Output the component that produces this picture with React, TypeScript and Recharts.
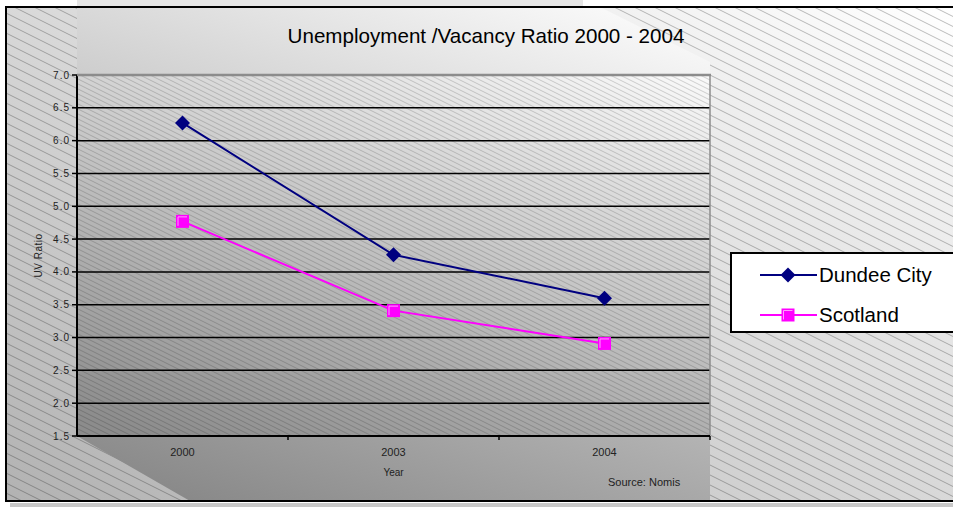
import React from 'react';
import { ComposedChart, Line, XAxis, YAxis, CartesianGrid, Legend, Label } from 'recharts';

// values
const years = ['2000', '2003', '2004'];
const dundeeCity = [6.27, 4.26, 3.6];
const scotland = [4.77, 3.41, 2.91];
const yTicks = [1.5, 2.0, 2.5, 3.0, 3.5, 4.0, 4.5, 5.0, 5.5, 6.0, 6.5, 7.0];

const data = years.map((year, i) => ({ year, dundee: dundeeCity[i], scotland: scotland[i] }));

const SERIES = [
  { key: 'dundee', name: 'Dundee City', color: '#000080', shape: 'diamond' },
  { key: 'scotland', name: 'Scotland', color: '#ff00ff', shape: 'square' },
];

const W = 953;
const H = 507;
const PLOT = { left: 77, top: 75, right: 710, bottom: 436 };
const FONT = '"Liberation Sans", Arial, sans-serif';

const Marker = ({ cx, cy, shape, color }: any) => {
  if (shape === 'diamond') {
    const r = 7.5;
    return <path d={`M${cx},${cy - r}L${cx + r},${cy}L${cx},${cy + r}L${cx - r},${cy}Z`} fill={color} />;
  }
  const s = 6.5;
  return (
    <g>
      <rect x={cx - s} y={cy - s} width={s * 2} height={s * 2} fill={color} />
      <path d={`M${cx - 4.5},${cy + 4.5}V${cy - 4.5}H${cx + 4.5}`} fill="none" stroke="#ff9cff" strokeWidth={1} />
    </g>
  );
};

const XTick = (props: any) => {
  const { x, y, payload } = props;
  const half = payload && typeof payload.offset === 'number' && payload.offset > 0
    ? payload.offset
    : (PLOT.right - PLOT.left) / years.length / 2;
  const axisY = y - 12;
  return (
    <g>
      <line x1={x + half} x2={x + half} y1={axisY} y2={axisY + 4} stroke="#000" strokeWidth={1.5} />
      <text x={x} y={y} dy="0.71em" textAnchor="middle" fontSize={11} fill="#222" fontFamily={FONT}>
        {payload.value}
      </text>
    </g>
  );
};

const YTick = ({ x, y, payload }: any) => (
  <text x={x} y={y} dy="0.355em" textAnchor="end" fontSize={10} fill="#222" letterSpacing={1} fontFamily={FONT}>
    {Number(payload.value).toFixed(1)}
  </text>
);

const YLabel = (p: any) => {
  const vb = p.viewBox || { x: 33, y: PLOT.top, width: 44, height: PLOT.bottom - PLOT.top };
  const cx = vb.x + 5;
  const cy = vb.y + vb.height / 2;
  return (
    <text x={cx} y={cy} transform={`rotate(-90 ${cx} ${cy})`} textAnchor="middle" dominantBaseline="central"
      fontSize={10} letterSpacing={0.5} fill="#222" fontFamily={FONT}>
      UV Ratio
    </text>
  );
};

const XLabel = (p: any) => {
  const vb = p.viewBox || { x: PLOT.left, y: PLOT.bottom, width: PLOT.right - PLOT.left, height: 40 };
  return (
    <text x={vb.x + vb.width / 2} y={vb.y + 40} textAnchor="middle" fontSize={10} fill="#222" fontFamily={FONT}>
      Year
    </text>
  );
};

const LegendBox = (props: any) => {
  const items = (props.payload && props.payload.length ? props.payload : SERIES.map((s) => ({ dataKey: s.key, value: s.name, color: s.color })));
  return (
    <div style={{ width: 240, height: 81, boxSizing: 'border-box', border: '2px solid #000', background: '#fff' }}>
      {items.map((it: any) => {
        const s = SERIES.find((q) => q.key === it.dataKey) || SERIES[0];
        return (
          <div key={s.key} style={{ height: 39, display: 'flex', alignItems: 'center', paddingTop: 1 }}>
            <svg width={87} height={20} style={{ flex: 'none' }}>
              <line x1={28} x2={85} y1={10} y2={10} stroke={s.color} strokeWidth={2} />
              <Marker cx={56} cy={10} shape={s.shape} color={s.color} />
            </svg>
            <span style={{ fontFamily: FONT, fontSize: 20.5, color: '#000', lineHeight: '20px' }}>{it.value || s.name}</span>
          </div>
        );
      })}
    </div>
  );
};

const hatch = (w: number, h: number) =>
  `M${-w},${-h}L${2 * w},${2 * h}M0,${-h}L${2 * w},${h}M${-w},0L${w},${2 * h}`;

const Background = () => (
  <svg width={W} height={H} style={{ position: 'absolute', left: 0, top: 0 }}>
    <defs>
      <linearGradient id="bgGrad" x1="1" y1="0" x2="0" y2="1">
        <stop offset="0" stopColor="#ffffff" />
        <stop offset="1" stopColor="#b2b2b2" />
      </linearGradient>
      <linearGradient id="wallGrad" x1="1" y1="0" x2="0.47" y2="1.2">
        <stop offset="0" stopColor="#ffffff" />
        <stop offset="1" stopColor="#838383" />
      </linearGradient>
      <linearGradient id="plotGrad" x1="1" y1="0" x2="0.4" y2="1.15">
        <stop offset="0" stopColor="#fafafa" />
        <stop offset="1" stopColor="#8c8c8c" />
      </linearGradient>
      <pattern id="hatchWide" patternUnits="userSpaceOnUse" width={20} height={10}>
        <path d={hatch(20, 10)} stroke="rgba(0,0,0,0.33)" strokeWidth={0.8} fill="none" />
      </pattern>
      <pattern id="hatchFine" patternUnits="userSpaceOnUse" width={10} height={5}>
        <path d={hatch(10, 5)} stroke="rgba(0,0,0,0.24)" strokeWidth={0.7} fill="none" />
      </pattern>
    </defs>
    <rect x={0} y={0} width={W} height={H} fill="#fff" />
    <rect x={77} y={0} width={506} height={6} fill="#e6e6e6" />
    <rect x={6} y={7} width={W - 6} height={494} fill="url(#bgGrad)" />
    <rect x={6} y={7} width={W - 6} height={494} fill="url(#hatchWide)" />
    <polygon points={`${PLOT.left},7 600,7 ${PLOT.right},62 ${PLOT.right},501 190,501 ${PLOT.left},${PLOT.bottom}`}
      fill="url(#wallGrad)" />
    <rect x={PLOT.left} y={PLOT.top} width={PLOT.right - PLOT.left} height={PLOT.bottom - PLOT.top} fill="url(#plotGrad)" />
    <rect x={PLOT.left} y={PLOT.top} width={PLOT.right - PLOT.left} height={PLOT.bottom - PLOT.top} fill="url(#hatchFine)" />
    <text x={486} y={43} textAnchor="middle" fontSize={20.6} fill="#000" fontFamily={FONT}>
      Unemployment /Vacancy Ratio 2000 - 2004
    </text>
    <text x={608} y={486} fontSize={11} fill="#222" fontFamily={FONT}>Source: Nomis</text>
    <rect x={10} y={503} width={W - 10} height={4} fill="#c8c8c8" />
    <line x1={6} x2={W} y1={7} y2={7} stroke="#000" strokeWidth={2} />
    <line x1={6} x2={6} y1={6} y2={502} stroke="#000" strokeWidth={2} />
    <line x1={6} x2={W} y1={501} y2={501} stroke="#000" strokeWidth={2} />
  </svg>
);

const Overlay = () => (
  <svg width={W} height={H} style={{ position: 'absolute', left: 0, top: 0, pointerEvents: 'none' }}>
    <line x1={PLOT.left} x2={PLOT.right + 1} y1={PLOT.top} y2={PLOT.top} stroke="#8c8c8c" strokeWidth={2.5} />
    <line x1={PLOT.right} x2={PLOT.right} y1={PLOT.top} y2={PLOT.bottom - 1} stroke="#8c8c8c" strokeWidth={1.5} />
  </svg>
);

export default function App() {
  return (
    <div style={{ position: 'absolute', left: 0, top: 0, width: W, height: H, overflow: 'hidden' }}>
      <Background />
      <div style={{ position: 'absolute', left: 0, top: 0 }}>
        <ComposedChart width={W} height={H} data={data}
          margin={{ top: PLOT.top, right: W - PLOT.right, left: 33, bottom: 31 }}>
          <CartesianGrid vertical={false} stroke="#000" strokeWidth={1.5} fill="none" />
          <XAxis dataKey="year" scale="band" height={40} tickSize={0} tickMargin={12} tickLine={false}
            axisLine={{ stroke: '#000', strokeWidth: 2 }} tick={<XTick />} interval={0}>
            <Label content={<XLabel />} />
          </XAxis>
          <YAxis type="number" domain={[1.5, 7]} ticks={yTicks} interval={0} width={44} tickSize={5} tickMargin={2}
            allowDataOverflow axisLine={{ stroke: '#000', strokeWidth: 2 }} tickLine={{ stroke: '#000', strokeWidth: 1.5 }}
            tick={<YTick />}>
            <Label content={<YLabel />} />
          </YAxis>
          <Legend layout="horizontal" align="center" verticalAlign="middle" content={<LegendBox />}
            wrapperStyle={{ left: 730, top: 252, width: 240, height: 81 }} />
          {SERIES.map((s) => (
            <Line key={s.key} type="linear" dataKey={s.key} name={s.name} stroke={s.color} strokeWidth={2}
              isAnimationActive={false} activeDot={false}
              dot={(p: any) => <Marker key={`${s.key}-${p.index}`} cx={p.cx} cy={p.cy} shape={s.shape} color={s.color} />} />
          ))}
        </ComposedChart>
      </div>
      <Overlay />
    </div>
  );
}
